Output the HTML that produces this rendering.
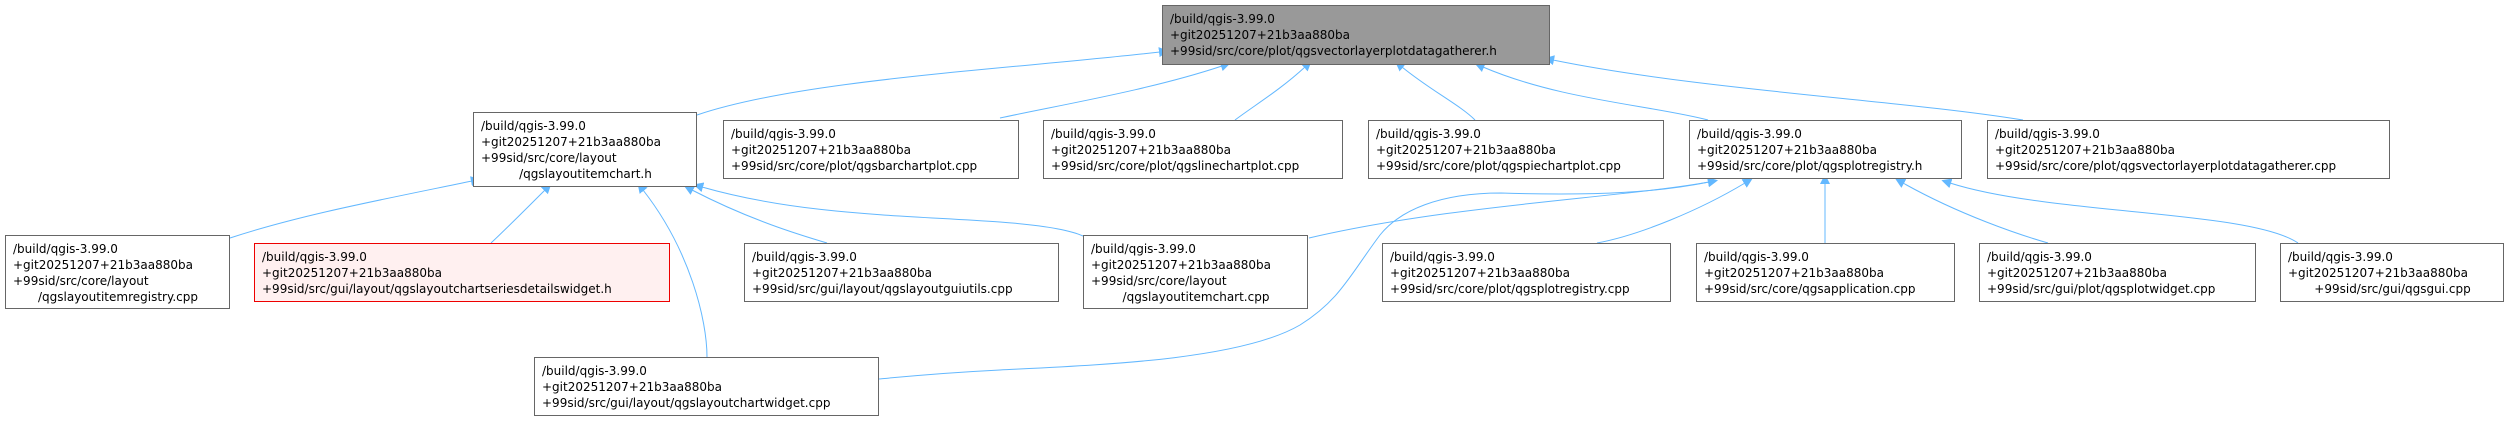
<!DOCTYPE html>
<html><head><meta charset="utf-8"><style>
body{margin:0;background:#fff;width:2509px;height:421px;position:relative;overflow:hidden;font-family:"DejaVu Sans","Liberation Sans",sans-serif;}
.n{position:absolute;box-sizing:border-box;border:1px solid #666;background:#fff;font-size:12px;line-height:16px;padding:5px 6px 0 7px;white-space:nowrap;color:#000;}
.c{text-align:center}
svg{position:absolute;left:0;top:0}
</style></head><body>
<svg width="2509" height="421">
<defs><marker id="a" viewBox="0 0 10 10" refX="1" refY="5" markerWidth="10" markerHeight="10" markerUnits="userSpaceOnUse" orient="auto-start-reverse"><path d="M0,0 L10,5 L0,10 z" fill="#63b8ff"/></marker></defs>
<g fill="none" stroke="#63b8ff" stroke-width="1" marker-start="url(#a)">
<path d="M1160,52 C1000,70 800,80 697,115"/>
<path d="M1222,66 C1150,90 1060,105 1000,118"/>
<path d="M1305,67 C1280,90 1255,105 1235,120"/>
<path d="M1402,67 C1430,90 1460,105 1475,120"/>
<path d="M1483,67 C1560,100 1650,105 1708,120"/>
<path d="M1553,60 C1700,90 1900,100 2023,120"/>
<path d="M472,181 C380,200 300,215 230,238"/>
<path d="M545,190 C525,210 505,230 491,243"/>
<path d="M643,190 C690,250 707,320 707,357"/>
<path d="M692,190 C750,220 800,235 827,243"/>
<path d="M702,187 C800,215 900,215 1000,222 C1040,225 1070,230 1083,236"/>
<path d="M1709,182 C1620,198 1450,205 1309,238"/>
<path d="M1709,182 C1660,192 1600,196 1501,193 C1440,193 1400,210 1380,235 C1350,275 1340,300 1300,325 C1240,360 1100,365 1000,370 C940,373 900,377 879,379"/>
<path d="M1745,183 C1700,210 1640,235 1597,243"/>
<path d="M1825,183 L1825,243"/>
<path d="M1903,183 C1960,215 2020,235 2048,243"/>
<path d="M1950,183 C2050,215 2250,210 2298,243"/>
</g></svg>
<div class="n" style="left:1162px;top:5px;width:388px;height:60px;background:#999">/build/qgis-3.99.0<br>+git20251207+21b3aa880ba<br>+99sid/src/core/plot/qgsvectorlayerplotdatagatherer.h</div>
<div class="n" style="left:473px;top:112px;width:224px;height:75px">/build/qgis-3.99.0<br>+git20251207+21b3aa880ba<br>+99sid/src/core/layout<br><div class="c">/qgslayoutitemchart.h</div></div>
<div class="n" style="left:723px;top:120px;width:296px;height:59px">/build/qgis-3.99.0<br>+git20251207+21b3aa880ba<br>+99sid/src/core/plot/qgsbarchartplot.cpp</div>
<div class="n" style="left:1043px;top:120px;width:300px;height:59px">/build/qgis-3.99.0<br>+git20251207+21b3aa880ba<br>+99sid/src/core/plot/qgslinechartplot.cpp</div>
<div class="n" style="left:1368px;top:120px;width:296px;height:59px">/build/qgis-3.99.0<br>+git20251207+21b3aa880ba<br>+99sid/src/core/plot/qgspiechartplot.cpp</div>
<div class="n" style="left:1689px;top:120px;width:273px;height:59px">/build/qgis-3.99.0<br>+git20251207+21b3aa880ba<br>+99sid/src/core/plot/qgsplotregistry.h</div>
<div class="n" style="left:1987px;top:120px;width:403px;height:59px">/build/qgis-3.99.0<br>+git20251207+21b3aa880ba<br>+99sid/src/core/plot/qgsvectorlayerplotdatagatherer.cpp</div>
<div class="n" style="left:5px;top:235px;width:225px;height:74px">/build/qgis-3.99.0<br>+git20251207+21b3aa880ba<br>+99sid/src/core/layout<br><div class="c">/qgslayoutitemregistry.cpp</div></div>
<div class="n" style="left:254px;top:243px;width:416px;height:59px;border-color:#e00;background:#fff0f0">/build/qgis-3.99.0<br>+git20251207+21b3aa880ba<br>+99sid/src/gui/layout/qgslayoutchartseriesdetailswidget.h</div>
<div class="n" style="left:744px;top:243px;width:315px;height:59px">/build/qgis-3.99.0<br>+git20251207+21b3aa880ba<br>+99sid/src/gui/layout/qgslayoutguiutils.cpp</div>
<div class="n" style="left:1083px;top:235px;width:225px;height:74px">/build/qgis-3.99.0<br>+git20251207+21b3aa880ba<br>+99sid/src/core/layout<br><div class="c">/qgslayoutitemchart.cpp</div></div>
<div class="n" style="left:1382px;top:243px;width:289px;height:59px">/build/qgis-3.99.0<br>+git20251207+21b3aa880ba<br>+99sid/src/core/plot/qgsplotregistry.cpp</div>
<div class="n" style="left:1696px;top:243px;width:259px;height:59px">/build/qgis-3.99.0<br>+git20251207+21b3aa880ba<br>+99sid/src/core/qgsapplication.cpp</div>
<div class="n" style="left:1979px;top:243px;width:277px;height:59px">/build/qgis-3.99.0<br>+git20251207+21b3aa880ba<br>+99sid/src/gui/plot/qgsplotwidget.cpp</div>
<div class="n" style="left:2280px;top:243px;width:224px;height:59px">/build/qgis-3.99.0<br>+git20251207+21b3aa880ba<br><div class="c">+99sid/src/gui/qgsgui.cpp</div></div>
<div class="n" style="left:534px;top:357px;width:345px;height:59px">/build/qgis-3.99.0<br>+git20251207+21b3aa880ba<br>+99sid/src/gui/layout/qgslayoutchartwidget.cpp</div>
</body></html>
